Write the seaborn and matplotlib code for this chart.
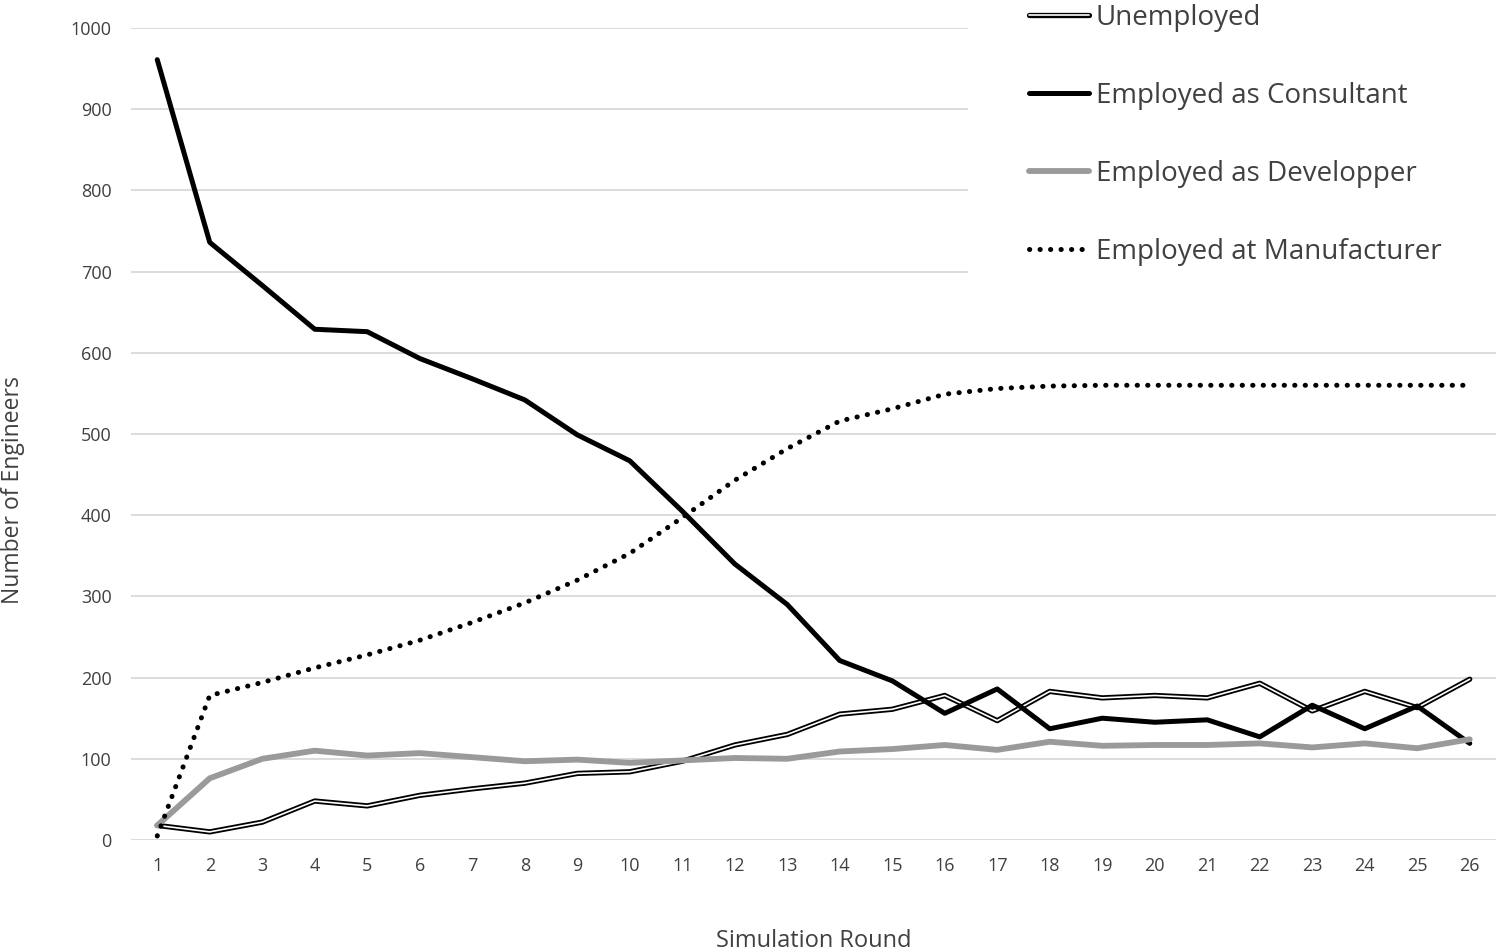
import pandas as pd
import matplotlib.pyplot as plt
import matplotlib.patheffects as pe
import seaborn as sns

# datos, una lista por serie
rondas = list(range(1, 27))
desempleados = [18, 10, 22, 48, 42, 55, 63, 70, 82, 84, 97, 117, 130,
                155, 161, 178, 147, 183, 175, 178, 175, 193, 159, 183, 163, 198]
consultor = [961, 736, 683, 629, 626, 593, 568, 542, 499, 467, 405, 340, 290,
             221, 196, 156, 186, 137, 150, 145, 148, 127, 166, 137, 165, 119]
desarrollador = [18, 76, 100, 110, 104, 107, 102, 97, 99, 95, 98, 101, 100,
                 109, 112, 117, 111, 121, 116, 117, 117, 119, 114, 119, 113, 124]
fabricante = [5, 178, 194, 212, 228, 246, 268, 292, 320, 353, 397, 443, 482,
              516, 531, 549, 556, 559, 560, 560, 560, 560, 560, 560, 560, 560]
etiquetas = ['Unemployed', 'Employed as Consultant',
             'Employed as Developper', 'Employed at Manufacturer']

df = pd.DataFrame({'ronda': rondas, 'desempleados': desempleados,
                   'consultor': consultor, 'desarrollador': desarrollador,
                   'fabricante': fabricante})

sns.set_theme(style='white')
plt.rcParams['font.family'] = ['Open Sans', 'DejaVu Sans']
gris_texto = '#404040'

fig = plt.figure(figsize=(15, 9.52), dpi=100)
ax = fig.add_axes([131 / 1500, 112 / 952, 1365 / 1500, 812 / 952])

# linea doble para desempleados: blanca con borde negro
sns.lineplot(data=df, x='ronda', y='desempleados', ax=ax, color='white',
             linewidth=1.2, label=etiquetas[0],
             path_effects=[pe.Stroke(linewidth=3.8, foreground='black'), pe.Normal()])
sns.lineplot(data=df, x='ronda', y='consultor', ax=ax, color='black',
             linewidth=3.6, label=etiquetas[1])
sns.lineplot(data=df, x='ronda', y='desarrollador', ax=ax, color='#9a9a9a',
             linewidth=4.2, label=etiquetas[2])
sns.lineplot(data=df, x='ronda', y='fabricante', ax=ax, color='black',
             linewidth=3.6, linestyle=(0, (0.05, 2.05)), dash_capstyle='round',
             label=etiquetas[3])

ax.set_xlim(0.5, 26.5)
ax.set_ylim(0, 1000)
ax.set_xticks(rondas)
ax.set_yticks(range(0, 1001, 100))
ax.yaxis.grid(True, color='#d9d9d9', linewidth=1.3)
ax.set_axisbelow(True)
sns.despine(ax=ax, left=True, bottom=True)
ax.tick_params(axis='both', length=0, labelsize=13, colors=gris_texto)
ax.tick_params(axis='x', pad=12)
ax.tick_params(axis='y', pad=14)

ax.set_xlabel('Simulation Round', fontsize=17, color=gris_texto)
ax.set_ylabel('Number of Engineers', fontsize=16.5, color=gris_texto)
ax.xaxis.set_label_coords(0.5, -0.1095)
ax.yaxis.set_label_coords(-0.0775, 0.431)

handles, labels = ax.get_legend_handles_labels()
if ax.get_legend() is not None:
    ax.get_legend().remove()
leg = fig.legend(handles, labels, loc='upper left',
                 bbox_to_anchor=(954 / 1500, 1.0746), fontsize=20,
                 frameon=True, facecolor='white', edgecolor='none',
                 framealpha=1, borderpad=2.2, handlelength=2.16,
                 handletextpad=0.25, labelspacing=1.8)
for t in leg.get_texts():
    t.set_color(gris_texto)

plt.savefig('out.png', dpi=100)
plt.close()
